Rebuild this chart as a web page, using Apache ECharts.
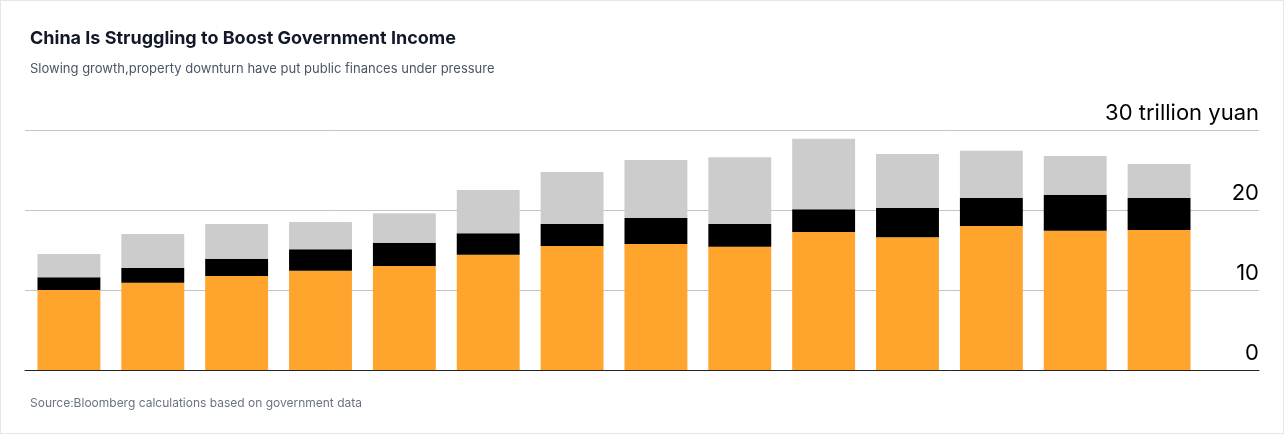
<!DOCTYPE html>
<html><head><meta charset="utf-8">
<script src="https://cdn.jsdelivr.net/npm/echarts@6/dist/echarts.min.js"></script>
<style>
html,body{margin:0;padding:0;background:#fff}
#c{width:1282px;height:432px;border:1px solid #e6e6e6}
</style></head>
<body><div id="c"></div>
<script>
// 数据
var years = ["2010","2011","2012","2013","2014","2015","2016","2017","2018","2019","2020","2021","2022","2023"];
var orangeVals = [10.0,10.9,11.75,12.4,13.0,14.4,15.5,15.75,15.4,17.25,16.6,18.0,17.4,17.5];
var blackVals = [1.6,1.85,2.15,2.7,2.9,2.7,2.75,3.25,2.85,2.85,3.65,3.5,4.5,4.0];
var grayVals = [2.9,4.25,4.35,3.4,3.7,5.4,6.5,7.25,8.35,8.8,6.75,5.9,4.85,4.25];
var tickLabels = {0:"0",10:"10",20:"20",30:"30 trillion yuan"};

(function() {
  var myChart = echarts.init(document.getElementById("c"));
  var option = {
    animation: false,
    textStyle: { fontFamily: "Inter, 'Noto Sans', sans-serif" },
    title: [
      { text: "China Is Struggling to Boost Government Income", left: 24, top: 24,
        textStyle: { fontSize: 18, fontWeight: "bold", color: "#111827" } },
      { text: "Slowing growth,property downturn have put public finances under pressure", left: 24, top: 57,
        textStyle: { fontSize: 13, fontWeight: "normal", color: "#4b5563" } },
      { text: "Source:Bloomberg calculations based on government data", left: 24, top: 391,
        textStyle: { fontSize: 12, fontWeight: "normal", color: "#6b7280" } }
    ],
    grid: [
      { left: 26, width: 1174, top: 129, height: 240 },
      { left: 24, right: 24, top: 129, height: 240 }
    ],
    xAxis: [
      { type: "category", data: years, gridIndex: 0, show: false },
      { type: "category", data: [""], gridIndex: 1, axisLabel: { show: false },
        axisTick: { show: false }, axisLine: { show: true, lineStyle: { color: "#222", width: 1 } } }
    ],
    yAxis: [
      { type: "value", gridIndex: 0, min: 0, max: 30, interval: 10, show: false },
      { type: "value", gridIndex: 1, min: 0, max: 30, interval: 10, position: "right",
        axisLine: { show: false }, axisTick: { show: false },
        splitLine: { lineStyle: { color: "#c4c4c4", width: 1 } },
        axisLabel: { inside: true, margin: 0, verticalAlign: "bottom", padding: [0, 0, 6, 0],
          fontSize: 22, color: "#000",
          formatter: function(v) { return tickLabels[v]; } } }
    ],
    series: [
      { type: "bar", stack: "t", data: orangeVals, barCategoryGap: "25%",
        itemStyle: { color: "#ffa42c" } },
      { type: "bar", stack: "t", data: blackVals, itemStyle: { color: "#000" } },
      { type: "bar", stack: "t", data: grayVals, itemStyle: { color: "#cccccc" } }
    ]
  };
  myChart.setOption(option);
})();
</script></body></html>
